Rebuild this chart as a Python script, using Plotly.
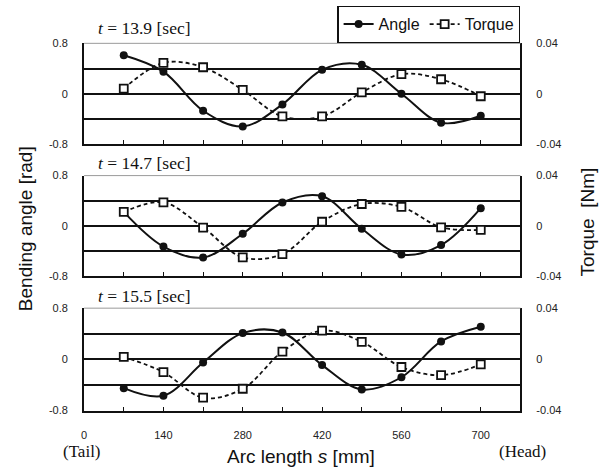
import plotly.graph_objects as go

# ---- data ----
arc_s = [70, 140, 210, 280, 350, 420, 490, 560, 630, 700]
x_tick_vals = [0, 70, 140, 210, 280, 350, 420, 490, 560, 630, 700]
x_tick_text = ["0", "", "140", "", "280", "", "420", "", "560", "", "700"]

times = ["13.9", "14.7", "15.5"]
angle_139 = [0.61, 0.35, -0.27, -0.52, -0.17, 0.38, 0.46, 0.0, -0.46, -0.35]
torque_139 = [0.004, 0.0245, 0.021, 0.003, -0.018, -0.018, 0.001, 0.0155, 0.0115, -0.002]
angle_147 = [0.22, -0.335, -0.51, -0.13, 0.37, 0.47, -0.05, -0.46, -0.31, 0.28]
torque_147 = [0.011, 0.0186, -0.0015, -0.0253, -0.0227, 0.0031, 0.0173, 0.015, -0.0013, -0.0034]
angle_155 = [-0.45, -0.57, -0.05, 0.41, 0.42, -0.09, -0.47, -0.28, 0.28, 0.51]
torque_155 = [0.002, -0.010, -0.030, -0.023, 0.006, 0.0225, 0.0137, -0.006, -0.0124, -0.004]

angle_ticks = [-0.8, 0, 0.8]
angle_tick_text = ["-0.8", "0", "0.8"]
torque_ticks = [-0.04, 0, 0.04]
torque_tick_text = ["-0.04", "0", "0.04"]

angles = [angle_139, angle_147, angle_155]
torques = [torque_139, torque_147, torque_155]

W, H = 604, 475
X0, X1 = 81.5, 520.0
panels_px = [(38.3, 141.7), (174.0, 276.7), (310.0, 415.0)]
title_y_px = [22.5, 161.0, 298.0]

fig = go.Figure()
layout = dict(
    width=W, height=H, autosize=False,
    margin=dict(l=0, r=0, t=0, b=0),
    paper_bgcolor="white", plot_bgcolor="white",
    font=dict(family="Liberation Sans, Arial", color="#111"),
    showlegend=True,
    legend=dict(orientation="h", x=X1 / W, xanchor="right", y=1.0, yanchor="top",
                bordercolor="#111", borderwidth=1.2, bgcolor="white",
                font=dict(size=16, family="Liberation Sans, Arial", color="#111"),
                itemwidth=30, tracegroupgap=0, traceorder="normal"),
)

annotations = []
shapes = []
for i in range(3):
    top_px, bot_px = panels_px[i]
    dom_y = [1 - bot_px / H, 1 - top_px / H]
    xa = "xaxis" if i == 0 else f"xaxis{i + 1}"
    xr = "x" if i == 0 else f"x{i + 1}"
    ya_l_n = 2 * i + 1
    ya_r_n = 2 * i + 2
    ya_l = "yaxis" if ya_l_n == 1 else f"yaxis{ya_l_n}"
    ya_r = f"yaxis{ya_r_n}"
    yr_l = "y" if ya_l_n == 1 else f"y{ya_l_n}"
    yr_r = f"y{ya_r_n}"
    last = i == 2
    layout[xa] = dict(
        domain=[X0 / W, X1 / W], range=[0, 770], anchor=yr_l,
        tickmode="array", tickvals=x_tick_vals, ticktext=x_tick_text,
        showticklabels=last, ticks="inside", ticklen=4, tickwidth=1.2, tickcolor="#111",
        showline=True, linecolor="#111", linewidth=2, showgrid=False, zeroline=False,
        tickfont=dict(size=11, color="#222"), ticklabelstandoff=13,
    )
    layout[ya_l] = dict(
        domain=dom_y, range=[-0.8, 0.8], anchor=xr,
        tickmode="array", tickvals=angle_ticks, ticktext=angle_tick_text,
        ticks="", showline=True, linecolor="#111", linewidth=2,
        showgrid=False, zeroline=True, zerolinecolor="#111", zerolinewidth=2,
        minor=dict(tickmode="array", tickvals=[-0.4, 0.4], showgrid=True,
                   gridcolor="#111", gridwidth=2, ticks=""),
        tickfont=dict(size=11, color="#222"), ticklabelstandoff=12,
    )
    layout[ya_r] = dict(
        range=[-0.04, 0.04], anchor=xr, overlaying=yr_l, side="right",
        tickmode="array", tickvals=torque_ticks, ticktext=torque_tick_text,
        ticks="", showline=True, linecolor="#111", linewidth=1.5,
        showgrid=False, zeroline=False,
        tickfont=dict(size=11, color="#222"), ticklabelstandoff=12,
    )
    fig.add_trace(go.Scatter(
        x=arc_s, y=angles[i], xaxis=xr, yaxis=yr_l, name="Angle",
        mode="lines+markers", line=dict(color="#111", width=2, shape="spline", smoothing=1.0),
        marker=dict(symbol="circle", size=8, color="#111"),
        showlegend=(i == 0), legendrank=1,
    ))
    fig.add_trace(go.Scatter(
        x=arc_s, y=torques[i], xaxis=xr, yaxis=yr_r, name="Torque",
        mode="lines+markers",
        line=dict(color="#111", width=1.8, dash="4px,3px", shape="spline", smoothing=1.0),
        marker=dict(symbol="square", size=8, color="white", line=dict(width=1.8, color="#111")),
        showlegend=(i == 0), legendrank=2,
    ))
    # top border (thin gray)
    shapes.append(dict(type="line", xref=f"{xr} domain", yref=f"{yr_l} domain",
                       x0=0, x1=1, y0=1, y1=1, line=dict(color="#9a9a9a", width=1)))
    annotations.append(dict(
        text=f"<i>t</i> = {times[i]} [sec]", xref="paper", yref="paper",
        x=93 / W, xanchor="left", y=1 - title_y_px[i] / H, yanchor="middle",
        showarrow=False, font=dict(family="Liberation Serif, Times New Roman", size=17.5, color="#111"),
    ))

annotations += [
    dict(text="(Tail)", xref="paper", yref="paper", x=79 / W, y=1 - 457 / H,
         xanchor="center", yanchor="middle", showarrow=False,
         font=dict(family="Liberation Serif, Times New Roman", size=17, color="#111")),
    dict(text="(Head)", xref="paper", yref="paper", x=522 / W, y=1 - 457 / H,
         xanchor="center", yanchor="middle", showarrow=False,
         font=dict(family="Liberation Serif, Times New Roman", size=17, color="#111")),
    dict(text="Arc length <i>s</i> [mm]", xref="paper", yref="paper", x=299 / W, y=1 - 462 / H,
         xanchor="center", yanchor="middle", showarrow=False,
         font=dict(family="Liberation Sans, Arial", size=19, color="#111")),
    dict(text="Bending angle [rad]", xref="paper", yref="paper", x=22 / W, y=1 - 228 / H,
         xanchor="center", yanchor="middle", textangle=-90, showarrow=False,
         font=dict(family="Liberation Sans, Arial", size=19, color="#111")),
    dict(text="Torque  [Nm]", xref="paper", yref="paper", x=587 / W, y=1 - 222 / H,
         xanchor="center", yanchor="middle", textangle=-90, showarrow=False,
         font=dict(family="Liberation Sans, Arial", size=19, color="#111")),
]
layout["annotations"] = annotations
layout["shapes"] = shapes
fig.update_layout(**layout)
fig.write_html(
    "out.html",
    config={"displayModeBar": False},
    post_script="document.body.style.margin='0';document.body.style.padding='0';"
                "document.body.style.overflow='hidden';",
)
